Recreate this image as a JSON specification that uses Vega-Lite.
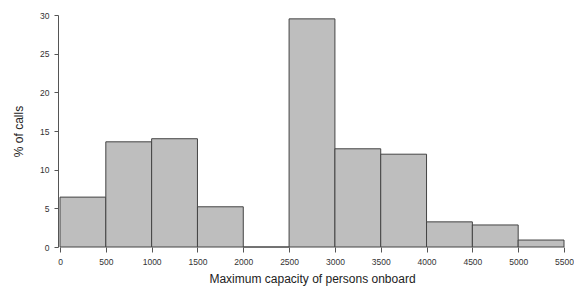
{
  "$schema": "https://vega.github.io/schema/vega-lite/v6.json",
  "autosize": {"type": "none"},
  "width": 504,
  "height": 232,
  "padding": {"left": 60, "top": 15, "right": 10, "bottom": 39},
  "background": "white",
  "config": {
    "view": {"stroke": null},
    "font": "Liberation Sans",
    "axis": {"grid": false, "labelFont": "Liberation Sans", "titleFont": "Liberation Sans", "labelColor": "#333", "titleColor": "#222", "labelFontSize": 8.5, "titleFontWeight": "normal", "titleFontSize": 12, "tickColor": "#555", "domainColor": "#555", "labelOverlap": false}
  },
  "data": {"values": [
    {"lo": 0, "hi": 500, "pct": 6.45},
    {"lo": 500, "hi": 1000, "pct": 13.6},
    {"lo": 1000, "hi": 1500, "pct": 14.0},
    {"lo": 1500, "hi": 2000, "pct": 5.2},
    {"lo": 2000, "hi": 2500, "pct": 0},
    {"lo": 2500, "hi": 3000, "pct": 29.5},
    {"lo": 3000, "hi": 3500, "pct": 12.7},
    {"lo": 3500, "hi": 4000, "pct": 12.0},
    {"lo": 4000, "hi": 4500, "pct": 3.25},
    {"lo": 4500, "hi": 5000, "pct": 2.85},
    {"lo": 5000, "hi": 5500, "pct": 0.9}
  ]},
  "mark": {"type": "rect", "fill": "#bebebe", "stroke": "#444", "strokeWidth": 1},
  "encoding": {
    "x": {"field": "lo", "type": "quantitative", "scale": {"domain": [0, 5500], "nice": false, "zero": false},
      "axis": {"title": "Maximum capacity of persons onboard", "values": [0,500,1000,1500,2000,2500,3000,3500,4000,4500,5000,5500], "domain": false, "tickSize": 5, "labelPadding": 5, "titlePadding": 8, "labelFlush": false, "labelOverlap": false, "format": "d"}},
    "x2": {"field": "hi"},
    "y": {"field": "pct", "type": "quantitative", "scale": {"domain": [0, 30], "nice": false},
      "axis": {"title": "% of calls", "values": [0,5,10,15,20,25,30], "offset": 2, "tickSize": 4, "labelPadding": 5, "titlePadding": 14, "labelFlush": false, "labelOverlap": false, "format": "d"}},
    "y2": {"datum": 0}
  }
}
